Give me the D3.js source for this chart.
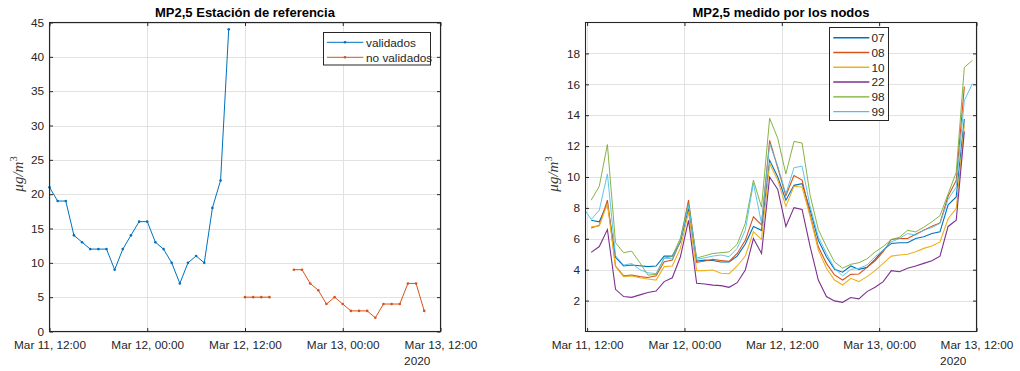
<!DOCTYPE html>
<html>
<head>
<meta charset="utf-8">
<script src="https://cdn.jsdelivr.net/npm/d3@7"></script>
<style>
  body { margin: 0; background: #fff; }
  svg text { font-family: "Liberation Sans", Arial, Helvetica, sans-serif; fill: #262626; }
</style>
</head>
<body>
<svg id="chart" width="1020" height="371"></svg>
<script>
// ---- Data -------------------------------------------------------------
const xTickTimes = ["2020-03-11T12:00Z", "2020-03-12T00:00Z", "2020-03-12T12:00Z", "2020-03-13T00:00Z", "2020-03-13T12:00Z"];
const xTickLabels = ["Mar 11, 12:00", "Mar 12, 00:00", "Mar 12, 12:00", "Mar 13, 00:00", "Mar 13, 12:00"];
const yearLabel = "2020";

// Reference station, hourly values
const refTitle = "MP2,5 Estación de referencia";
const refYTicks = [0, 5, 10, 15, 20, 25, 30, 35, 40, 45];
const validadosStart = "2020-03-11T12:00Z";
const validados = [21, 19, 19, 14, 13, 12, 12, 12, 9, 12, 14, 16, 16, 13, 12, 10, 7, 10, 11, 10, 18, 22, 44];
const noValidadosStart = "2020-03-12T12:00Z";
const noValidados = [5, 5, 5, 5, null, null, 9, 9, 7, 6, 4, 5, 4, 3, 3, 3, 2, 4, 4, 4, 7, 7, 3];
const refSeriesNames = ["validados", "no validados"];

// Low-cost sensor nodes, hourly values
const nodeTitle = "MP2,5 medido por los nodos";
const nodeYTicks = [2, 4, 6, 8, 10, 12, 14, 16, 18];
const nodeStart = "2020-03-11T12:30Z";
const nodeNames = ["07", "08", "10", "22", "98", "99"];
const node07 = [7.2, 7.1, 8.3, 4.8, 4.24, 4.3, 4.26, 4.2, 4.24, 4.88, 4.88, 5.8, 7.95, 4.56, 4.62, 4.6, 4.5, 4.5, 4.88, 5.66, 6.8, 6.55, 11.08, 10.0, 8.5, 9.46, 9.57, 7.85, 5.91, 4.84, 4.02, 3.84, 4.24, 4.02, 4.15, 4.67, 5.27, 5.7, 5.74, 5.74, 6.02, 6.13, 6.34, 6.45, 8.2, 8.71, 13.75];
const node08 = [6.7, 6.88, 8.5, 4.24, 3.6, 3.65, 3.55, 3.5, 3.6, 4.52, 4.62, 5.85, 8.5, 4.47, 4.56, 4.67, 4.6, 4.54, 5.05, 5.9, 7.42, 6.9, 12.37, 10.6, 8.8, 10.1, 9.8, 7.53, 5.48, 4.41, 3.66, 3.33, 3.7, 3.72, 4.15, 4.58, 5.16, 5.96, 6.02, 6.02, 6.3, 6.56, 6.82, 7.03, 8.75, 9.78, 15.85];
const node10 = [6.77, 6.84, 8.28, 4.2, 3.55, 3.6, 3.48, 3.4, 3.33, 4.2, 4.24, 5.38, 7.74, 3.94, 3.94, 3.98, 3.77, 3.74, 4.24, 4.88, 6.45, 5.96, 10.86, 9.8, 8.1, 9.4, 9.35, 7.42, 5.27, 4.09, 3.33, 3.01, 3.44, 3.23, 3.55, 3.94, 4.41, 4.88, 4.95, 5.0, 5.16, 5.38, 5.53, 5.8, 7.3, 7.96, 13.4];
const node22 = [5.12, 5.5, 6.6, 2.73, 2.26, 2.21, 2.37, 2.52, 2.62, 3.23, 3.48, 4.84, 7.2, 3.12, 3.07, 3.0, 2.97, 2.86, 3.16, 3.98, 6.02, 5.05, 10.0, 9.2, 6.8, 8.02, 7.9, 5.48, 3.33, 2.26, 1.98, 1.89, 2.2, 2.11, 2.58, 2.86, 3.23, 3.94, 3.87, 4.09, 4.24, 4.41, 4.58, 4.88, 6.8, 7.2, 12.95];
const node98 = [8.5, 9.4, 12.1, 5.75, 5.1, 5.2, 4.45, 3.65, 3.7, 4.75, 4.85, 6.05, 8.3, 4.75, 4.9, 5.05, 5.1, 5.15, 5.65, 7.0, 9.8, 8.05, 13.8, 12.5, 10.2, 12.3, 12.2, 8.8, 6.6, 5.5, 4.5, 4.1, 4.35, 4.45, 4.7, 5.15, 5.5, 5.95, 6.1, 6.55, 6.45, 6.75, 7.1, 7.5, 8.9, 10.3, 17.1, 17.55];
const node99 = [7.25, 7.85, 10.2, 4.9, 4.3, 4.4, 4.0, 3.8, 3.75, 4.75, 4.7, 5.9, 8.2, 4.67, 4.77, 4.88, 4.95, 4.84, 5.38, 6.56, 9.6, 7.0, 12.15, 10.7, 8.9, 10.6, 10.7, 8.06, 6.13, 5.05, 4.09, 3.6, 4.02, 4.09, 4.3, 4.84, 5.27, 5.8, 6.02, 6.34, 6.24, 6.56, 6.73, 7.0, 8.55, 9.35, 14.95, 16.05];
const node99FirstTime = "2020-03-11T11:48Z";
const node99FirstValue = 7.8;

const yLabelText = "μg/m";

// ---- Helpers ----------------------------------------------------------
const parse = s => new Date(s);
const hourly = (start, values) => values.map((v, i) => ({ t: d3.utcHour.offset(parse(start), i), v }));

const colors = {
  blue: "#0072BD", orange: "#D95319", yellow: "#EDB120",
  purple: "#7E2F8E", green: "#77AC30", cyan: "#4DBEEE"
};
const gridColor = "#e2e2e2";
const axisColor = "#262626";

const svg = d3.select("#chart");

function drawFrame(g, x, y, yTicks, box, title) {
  const tickDates = xTickTimes.map(parse);
  // grid
  g.append("g").selectAll("line").data(tickDates).join("line")
    .attr("x1", d => Math.round(x(d)) + 0.5).attr("x2", d => Math.round(x(d)) + 0.5)
    .attr("y1", box.top).attr("y2", box.bottom)
    .attr("stroke", gridColor).attr("stroke-width", 1);
  g.append("g").selectAll("line").data(yTicks).join("line")
    .attr("x1", box.left).attr("x2", box.right)
    .attr("y1", d => Math.round(y(d)) + 0.5).attr("y2", d => Math.round(y(d)) + 0.5)
    .attr("stroke", gridColor).attr("stroke-width", 1);
  // title
  g.append("text").attr("x", (box.left + box.right) / 2).attr("y", 17.3)
    .attr("text-anchor", "middle").attr("font-size", "13px").attr("font-weight", "bold")
    .style("fill", "#000").text(title);
}

function drawAxes(g, x, y, yTicks, box, yLabelX) {
  const tickDates = xTickTimes.map(parse);
  const ts = 3.5;
  const bottom = g.append("g").attr("transform", `translate(0,${box.bottom})`)
    .call(d3.axisBottom(x).tickValues(tickDates).tickFormat((d, i) => xTickLabels[i])
      .tickSizeInner(-ts).tickSizeOuter(0).tickPadding(9.5));
  const top = g.append("g").attr("transform", `translate(0,${box.top})`)
    .call(d3.axisTop(x).tickValues(tickDates).tickFormat("").tickSizeInner(-ts).tickSizeOuter(0));
  const left = g.append("g").attr("transform", `translate(${box.left},0)`)
    .call(d3.axisLeft(y).tickValues(yTicks).tickFormat(d3.format("d"))
      .tickSizeInner(-ts).tickSizeOuter(0).tickPadding(5.5));
  const right = g.append("g").attr("transform", `translate(${box.right},0)`)
    .call(d3.axisRight(y).tickValues(yTicks).tickFormat("").tickSizeInner(-ts).tickSizeOuter(0));
  [bottom, top, left, right].forEach(a => {
    a.select(".domain").remove();
    a.selectAll(".tick line").attr("stroke", axisColor);
    a.selectAll("text").attr("font-size", "11.8px").attr("font-family", null).style("fill", axisColor);
  });
  // box
  g.append("rect").attr("x", box.left).attr("y", box.top)
    .attr("width", box.right - box.left).attr("height", box.bottom - box.top)
    .attr("fill", "none").attr("stroke", axisColor).attr("stroke-width", 1.1);
  // year under last tick label
  const lastLabel = bottom.selectAll(".tick text").nodes().pop();
  const w = lastLabel.getComputedTextLength();
  const lastX = x(tickDates[tickDates.length - 1]);
  g.append("text").attr("x", lastX - w / 2).attr("y", 365)
    .attr("font-size", "11.8px").style("fill", axisColor).text(yearLabel);
  // y label
  const yl = g.append("text")
    .attr("transform", `translate(${yLabelX},174) rotate(-90)`)
    .attr("text-anchor", "middle")
    .style("font-family", "'Liberation Serif', 'Times New Roman', serif")
    .style("font-style", "italic").attr("font-size", "15px").style("fill", "#3a3a3a");
  yl.append("tspan").text(yLabelText);
  yl.append("tspan").attr("dy", -6).attr("font-size", "10.5px").style("font-style", "normal").text("3");
}

// ---- Left panel: reference station ----------------------------------
{
  const box = { left: 49.5, right: 440.5, top: 22.5, bottom: 331.5 };
  const x = d3.scaleUtc().domain([parse(xTickTimes[0]), parse(xTickTimes[4])]).range([box.left, box.right]);
  const y = d3.scaleLinear().domain([0, 45]).range([box.bottom, box.top]);
  const g = svg.append("g");
  drawFrame(g, x, y, refYTicks, box, refTitle);

  const line = d3.line().defined(d => d.v != null).x(d => x(d.t)).y(d => y(d.v));
  const sets = [
    { data: hourly(validadosStart, validados), color: colors.blue },
    { data: hourly(noValidadosStart, noValidados), color: colors.orange }
  ];
  sets.forEach(s => {
    g.append("path").datum(s.data).attr("d", line)
      .attr("fill", "none").attr("stroke", s.color).attr("stroke-width", 1);
    g.append("g").selectAll("circle").data(s.data.filter(d => d.v != null)).join("circle")
      .attr("cx", d => x(d.t)).attr("cy", d => y(d.v)).attr("r", 1.3).attr("fill", s.color);
  });

  drawAxes(g, x, y, refYTicks, box, 22.5);

  // legend
  const lg = g.append("g");
  lg.append("rect").attr("x", 323.5).attr("y", 32.5).attr("width", 107).attr("height", 32.5)
    .attr("fill", "#fff").attr("stroke", axisColor).attr("stroke-width", 1);
  refSeriesNames.forEach((name, i) => {
    const cy = 42.3 + i * 15;
    const c = i === 0 ? colors.blue : colors.orange;
    lg.append("line").attr("x1", 327).attr("x2", 363.3).attr("y1", cy).attr("y2", cy)
      .attr("stroke", c).attr("stroke-width", 1);
    lg.append("circle").attr("cx", 345).attr("cy", cy).attr("r", 1.3).attr("fill", c);
    lg.append("text").attr("x", 366).attr("y", cy + 4.2).attr("font-size", "11.8px")
      .style("fill", axisColor).text(name);
  });
}

// ---- Right panel: sensor nodes --------------------------------------
{
  const box = { left: 585.5, right: 976.5, top: 22.5, bottom: 331.5 };
  const x = d3.scaleUtc().domain([parse(node99FirstTime), parse(xTickTimes[4])]).range([box.left, box.right]);
  const y = d3.scaleLinear().domain([0, 20]).range([box.bottom, box.top]);
  const g = svg.append("g");
  drawFrame(g, x, y, nodeYTicks, box, nodeTitle);

  const series = [
    { name: nodeNames[0], data: hourly(nodeStart, node07), color: colors.blue, w: 1.1 },
    { name: nodeNames[1], data: hourly(nodeStart, node08), color: colors.orange, w: 1.1 },
    { name: nodeNames[2], data: hourly(nodeStart, node10), color: colors.yellow, w: 1.1 },
    { name: nodeNames[3], data: hourly(nodeStart, node22), color: colors.purple, w: 1.1 },
    { name: nodeNames[4], data: hourly(nodeStart, node98), color: colors.green, w: 0.9 },
    { name: nodeNames[5], data: [{ t: parse(node99FirstTime), v: node99FirstValue }].concat(hourly(nodeStart, node99)), color: colors.cyan, w: 0.9 }
  ];
  const line = d3.line().x(d => x(d.t)).y(d => y(d.v));
  series.forEach(s => {
    g.append("path").datum(s.data).attr("d", line)
      .attr("fill", "none").attr("stroke", s.color).attr("stroke-width", s.w)
      .attr("stroke-linejoin", "miter");
  });

  drawAxes(g, x, y, nodeYTicks, box, 557.5);

  // legend
  const lg = g.append("g");
  lg.append("rect").attr("x", 829.5).attr("y", 27.5).attr("width", 59).attr("height", 93)
    .attr("fill", "#fff").attr("stroke", axisColor).attr("stroke-width", 1);
  series.forEach((s, i) => {
    const cy = 37.7 + i * 14.8;
    lg.append("line").attr("x1", 833.3).attr("x2", 869.3).attr("y1", cy).attr("y2", cy)
      .attr("stroke", s.color).attr("stroke-width", s.w + 0.4);
    lg.append("text").attr("x", 871.5).attr("y", cy + 4.2).attr("font-size", "11.8px")
      .style("fill", axisColor).text(s.name);
  });
}
</script>
</body>
</html>
